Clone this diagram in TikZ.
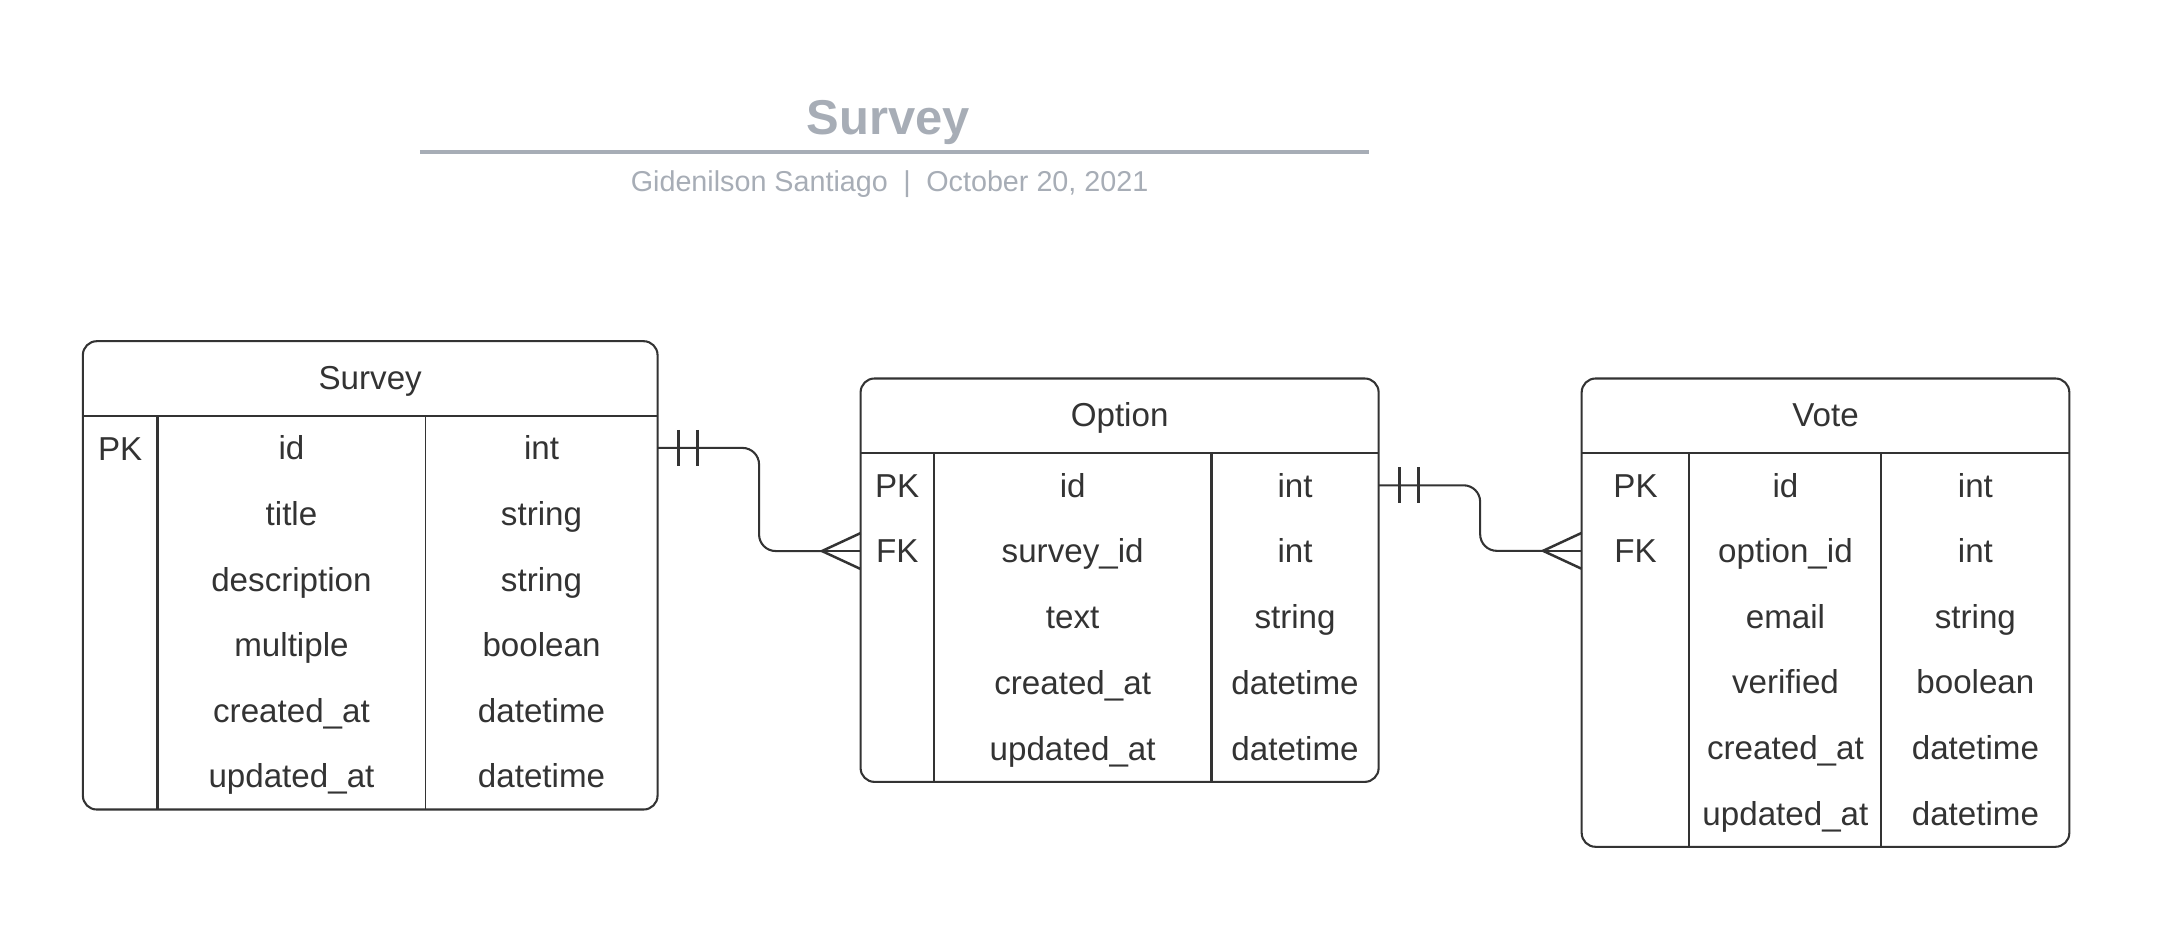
\documentclass[tikz,border=0pt]{standalone}
\usepackage{fontspec}
\setmainfont{Liberation Sans}
\usetikzlibrary{calc}
\definecolor{ink}{HTML}{333333}
\definecolor{titlegray}{HTML}{A7ADB6}

\tikzset{
  tbl/.style={draw=ink,line width=.75pt,rounded corners=5pt},
  sep/.style={draw=ink,line width=.75pt},
  cell/.style={text=ink,font=\fontsize{12}{14}\selectfont,inner sep=0pt,text height=8.6pt,text depth=0pt},
  rel/.style={draw=ink,line width=.75pt,rounded corners=6pt},
  bar/.style={draw=ink,line width=.9pt},
}

\begin{document}
\begin{tikzpicture}[x=.5pt,y=-.5pt]
\useasboundingbox (0,0) rectangle (1568,676);
\node[titlegray,font=\fontsize{17.7}{20}\selectfont\bfseries,inner sep=0pt,anchor=base] (title) at (643,97) {Survey};
\draw[titlegray,line width=1.5pt] (304,110) -- (991,110);
\node[titlegray,font=\fontsize{10.4}{12}\selectfont,inner sep=0pt,anchor=base] (byline) at (644,138.5) {Gidenilson Santiago\hspace{5.6pt}|\hspace{5.6pt}October 20, 2021};

\draw[tbl] (60,247) rectangle (476,586);
\draw[sep] (60,301) -- (476,301) (114,301) -- (114,586);
\draw[sep,line width=.5pt] (308,301) -- (308,586);
\node[cell] (survey) at (268,273.5) {Survey};
\node[cell] (survey-pk) at (87,324.5) {PK};
\foreach \n/\t [count=\i] in {id/int,title/string,description/string,multiple/boolean,created\_at/datetime,updated\_at/datetime}{
	\node[cell] (survey-n\i) at (211,{300.5+47.5*(\i-.5)}) {\n};
	\node[cell] (survey-t\i) at (392,{300.5+47.5*(\i-.5)}) {\t};
	}

\draw[tbl] (623,274) rectangle (998,566);
\draw[sep] (623,328) -- (998,328) (676,328) -- (676,566) (877,328) -- (877,566);
\node[cell] (option) at (810.5,300.5) {Option};
\node[cell] (option-pk) at (649.5,351.3) {PK};
\node[cell] (option-fk) at (649.5,398.9) {FK};
\foreach \n/\t [count=\i] in {id/int,survey\_id/int,text/string,created\_at/datetime,updated\_at/datetime}{
	\node[cell] (option-n\i) at (776.5,{327.5+47.6*(\i-.5)}) {\n};
	\node[cell] (option-t\i) at (937.5,{327.5+47.6*(\i-.5)}) {\t};
	}

\draw[tbl] (1145,274) rectangle (1498,613);
\draw[sep] (1145,328) -- (1498,328) (1223,328) -- (1223,613) (1362,328) -- (1362,613);
\node[cell] (vote) at (1321.5,300.5) {Vote};
\node[cell] (vote-pk) at (1184,351.25) {PK};
\node[cell] (vote-fk) at (1184,398.75) {FK};
\foreach \n/\t [count=\i] in {id/int,option\_id/int,email/string,verified/boolean,created\_at/datetime,updated\_at/datetime}{
	\node[cell] (vote-n\i) at (1292.5,{327.5+47.5*(\i-.5)}) {\n};
	\node[cell] (vote-t\i) at (1430,{327.5+47.5*(\i-.5)}) {\t};
	}

\coordinate (s-out) at (survey-t1 -| 476,0);
\coordinate (o-in) at (option-fk -| 623,0);
\coordinate (o-out) at (option-t1 -| 998,0);
\coordinate (v-in) at (vote-fk -| 1145,0);

\foreach \a/\b in {s-out/o-in,o-out/v-in}{
	\draw[rel] (\a) -- ($(\a)!.5!(\a-|\b)$) |- ($(\b)+(-28,0)$);
	\draw[ink,line width=.5pt] ($(\b)+(-28,0)$) -- (\b);
	\draw[bar] ($(\b)+(0,-13)$) -- ($(\b)+(-28,0)$) -- ($(\b)+(0,13)$);
	\foreach \d in {15,29}
		\draw[bar] ($(\a)+(\d,-13)$) -- ($(\a)+(\d,13)$);
	}
\end{tikzpicture}
\end{document}
